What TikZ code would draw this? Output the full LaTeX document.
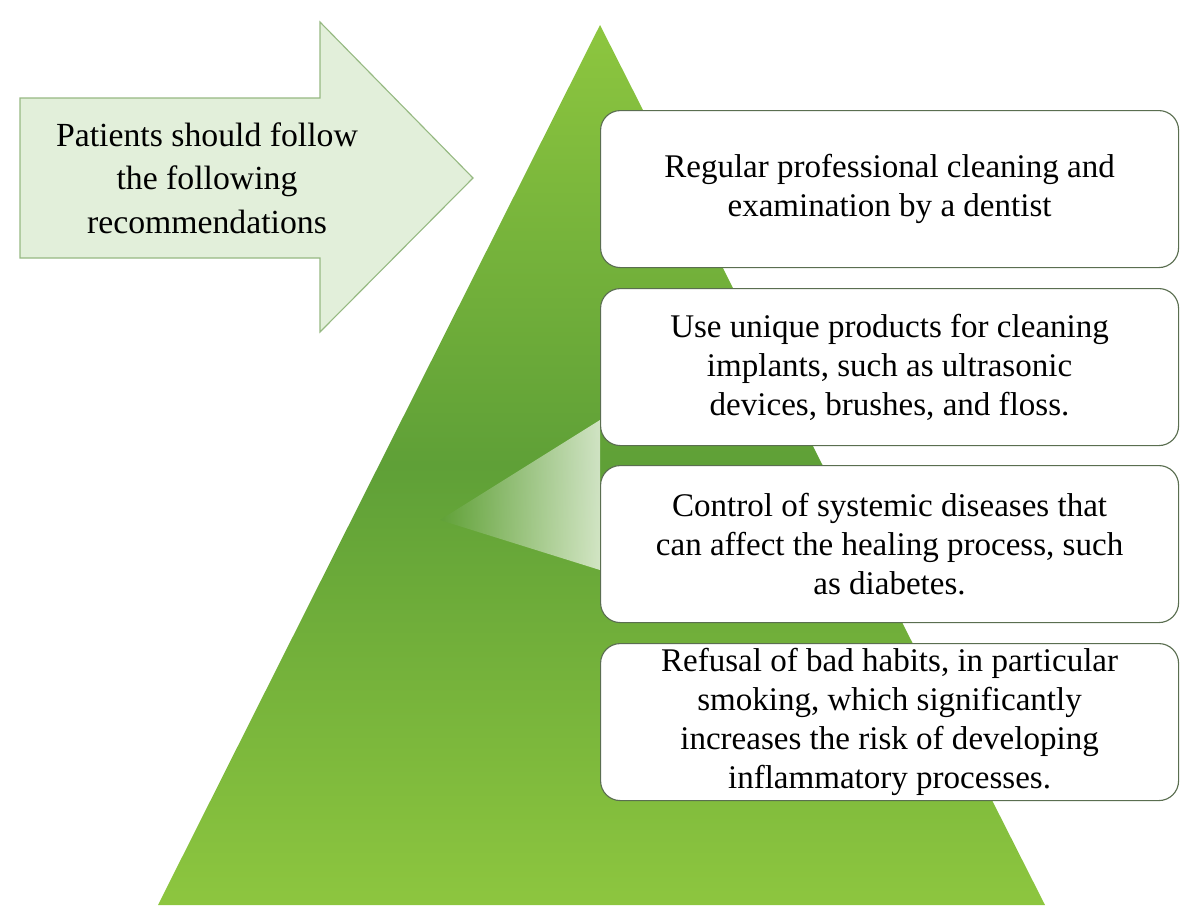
\documentclass[tikz,border=0pt]{standalone}
\usepackage{fontspec}
\setmainfont{Liberation Serif}
\definecolor{gA}{RGB}{141,198,63}
\definecolor{gB}{RGB}{95,160,55}
\definecolor{gL}{RGB}{226,239,218}
\definecolor{gE}{RGB}{150,185,130}
\definecolor{bx}{RGB}{90,110,80}
\tikzset{recbox/.style={draw=bx,line width=0.8pt,fill=white,rounded corners=14pt,minimum width=578*0.025cm,minimum height=157*0.025cm,align=center,font=\fontsize{23.5}{27.7}\selectfont,anchor=north west}}
\begin{document}
\begin{tikzpicture}[x=0.025cm,y=-0.025cm]
\useasboundingbox (0,0) rectangle (1200,923);
\coordinate (apex) at (600,25);
\coordinate (bl) at (158,905);
\coordinate (br) at (1045,905);
\shade[top color=gA,bottom color=gA,middle color=gB] (apex) -- (br) -- (bl) -- cycle;
\shade[left color=gB,right color=white,opacity=0.7] (600,420) -- (600,570) -- (440,520) -- cycle;
\draw[draw=gE,fill=gL,line width=0.8pt] (20,98) -- (320,98) -- (320,22) -- (473,178) -- (320,332) -- (320,258) -- (20,258) -- cycle;
\node[align=center,font=\fontsize{24}{31}\selectfont] (arr) at (207,178) {Patients should follow\\the following\\recommendations};
\node[recbox] (b1) at (600,110) {Regular professional cleaning and\\examination by a dentist};
\node[recbox] (b2) at (600,288) {Use unique products for cleaning\\implants, such as ultrasonic\\devices, brushes, and floss.};
\node[recbox] (b3) at (600,465) {Control of systemic diseases that\\can affect the healing process, such\\as diabetes.};
\node[recbox] (b4) at (600,643) {Refusal of bad habits, in particular\\smoking, which significantly\\increases the risk of developing\\inflammatory processes.};
\end{tikzpicture}
\end{document}
